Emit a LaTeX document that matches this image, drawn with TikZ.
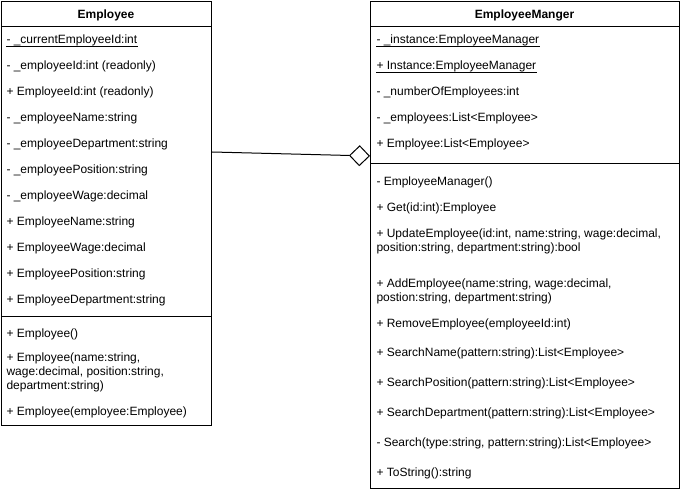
\documentclass[tikz,border=0pt]{standalone}
\usepackage{fontspec}
\setmainfont{Liberation Sans}
\usetikzlibrary{arrows.meta}
\newcommand{\umlfont}{\fontsize{12}{14}\selectfont}
\begin{document}
\begin{tikzpicture}[x=1pt,y=-1pt,line width=1pt,
  classbox/.style={draw=black,fill=white,anchor=north west,inner sep=0pt},
  title/.style={font=\umlfont\bfseries,anchor=base,inner sep=0pt},
  member/.style={font=\umlfont,anchor=base west,inner sep=0pt,align=left},
  static/.style={member},
  aggregation/.style={-{Diamond[open,fill=white,length=21pt,width=21pt]}}]
\useasboundingbox (0,0) rectangle (681,494);

% class boxes
\node[classbox,minimum width=210pt,minimum height=424pt] (emp) at (1,1) {};
\node[classbox,minimum width=309pt,minimum height=487pt] (mgr) at (370,1) {};

% compartment separators
\draw ([yshift=-26pt]emp.north west) -- ([yshift=-26pt]emp.north east);
\draw ([yshift=-315.5pt]emp.north west) -- ([yshift=-315.5pt]emp.north east);
\draw ([yshift=-26pt]mgr.north west) -- ([yshift=-26pt]mgr.north east);
\draw ([yshift=-162.5pt]mgr.north west) -- ([yshift=-162.5pt]mgr.north east);

% Employee (multi-line members are placed by the baseline of their last line)
\node[title] (empname) at (106,19) {Employee};
\node[static] (e1) at (6,44) {- \_currentEmployeeId:int};
\draw[line width=0.7pt] ([yshift=-2.5pt]e1.base west) -- ([yshift=-2.5pt]e1.base east);
\node[member] (e2) at (6,70) {- \_employeeId:int (readonly)};
\node[member] (e3) at (6,96) {+ EmployeeId:int (readonly)};
\node[member] (e4) at (6,122) {- \_employeeName:string};
\node[member] (e5) at (6,148) {- \_employeeDepartment:string};
\node[member] (e6) at (6,174) {- \_employeePosition:string};
\node[member] (e7) at (6,200) {- \_employeeWage:decimal};
\node[member] (e8) at (6,226) {+ EmployeeName:string};
\node[member] (e9) at (6,252) {+ EmployeeWage:decimal};
\node[member] (e10) at (6,278) {+ EmployeePosition:string};
\node[member] (e11) at (6,304) {+ EmployeeDepartment:string};
\node[member] (em1) at (6,338) {+ Employee()};
\node[member] (em2) at (6,390) {+ Employee(name:string,\\wage:decimal, position:string,\\department:string)};
\node[member] (em3) at (6,416) {+ Employee(employee:Employee)};

% EmployeeManger
\node[title] (mgrname) at (524.5,19) {EmployeeManger};
\node[static] (m1) at (376,44) {- \_instance:EmployeeManager};
\draw[line width=0.7pt] ([yshift=-2.5pt]m1.base west) -- ([yshift=-2.5pt]m1.base east);
\node[static] (m2) at (376,70) {+ Instance:EmployeeManager};
\draw[line width=0.7pt] ([yshift=-2.5pt]m2.base west) -- ([yshift=-2.5pt]m2.base east);
\node[member] (m3) at (376,96) {- \_numberOfEmployees:int};
\node[member] (m4) at (376,122) {- \_employees:List<Employee>};
\node[member] (m5) at (376,148) {+ Employee:List<Employee>};
\node[member] (mm1) at (376,186) {- EmployeeManager()};
\node[member] (mm2) at (376,212) {+ Get(id:int):Employee};
\node[member] (mm3) at (376,252) {+ UpdateEmployee(id:int, name:string, wage:decimal,\\position:string, department:string):bool};
\node[member] (mm4) at (376,302) {+ AddEmployee(name:string, wage:decimal,\\postion:string, department:string)};
\node[member] (mm5) at (376,328) {+ RemoveEmployee(employeeId:int)};
\node[member] (mm6) at (376,357) {+ SearchName(pattern:string):List<Employee>};
\node[member] (mm7) at (376,387) {+ SearchPosition(pattern:string):List<Employee>};
\node[member] (mm8) at (376,417) {+ SearchDepartment(pattern:string):List<Employee>};
\node[member] (mm9) at (376,447) {- Search(type:string, pattern:string):List<Employee>};
\node[member] (mm10) at (376,477) {+ ToString():string};

% aggregation: EmployeeManger holds Employees
\draw[aggregation] ([yshift=-151pt]emp.north east) -- ([yshift=-155pt]mgr.north west);
\end{tikzpicture}
\end{document}
